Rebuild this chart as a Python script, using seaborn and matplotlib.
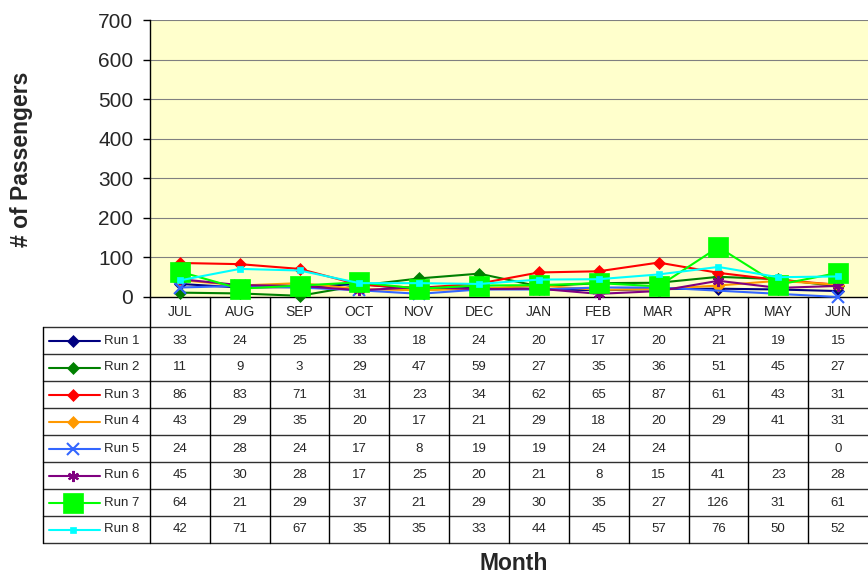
import numpy as np
import pandas as pd
import matplotlib
matplotlib.use("Agg")
import matplotlib.pyplot as plt
import seaborn as sns

months = ['JUL', 'AUG', 'SEP', 'OCT', 'NOV', 'DEC', 'JAN', 'FEB', 'MAR', 'APR', 'MAY', 'JUN']
run_names = ['Run 1', 'Run 2', 'Run 3', 'Run 4', 'Run 5', 'Run 6', 'Run 7', 'Run 8']
run1 = [33, 24, 25, 33, 18, 24, 20, 17, 20, 21, 19, 15]
run2 = [11, 9, 3, 29, 47, 59, 27, 35, 36, 51, 45, 27]
run3 = [86, 83, 71, 31, 23, 34, 62, 65, 87, 61, 43, 31]
run4 = [43, 29, 35, 20, 17, 21, 29, 18, 20, 29, 41, 31]
run5 = [24, 28, 24, 17, 8, 19, 19, 24, 24, np.nan, np.nan, 0]
run6 = [45, 30, 28, 17, 25, 20, 21, 8, 15, 41, 23, 28]
run7 = [64, 21, 29, 37, 21, 29, 30, 35, 27, 126, 31, 61]
run8 = [42, 71, 67, 35, 35, 33, 44, 45, 57, 76, 50, 52]
runs = [run1, run2, run3, run4, run5, run6, run7, run8]
y_ticks = [0, 100, 200, 300, 400, 500, 600, 700]

# styles per run
colors = ['#000080', '#008000', '#FF0000', '#FF9900', '#3366FF', '#800080', '#00FF00', '#00FFFF']
markers = ['D', 'D', 'D', 'D', 'x', (6, 2, 0), 's', 's']
msizes = [6, 6, 6, 6, 8, 8, 14, 4]

sns.set_style("white")
plt.rcParams['font.family'] = ['Liberation Sans', 'DejaVu Sans']

W, H = 868, 573
fig = plt.figure(figsize=(W / 100, H / 100), dpi=100)

# plot area in pixels: x 150..868, y 20..297
ax = fig.add_axes([150 / W, (H - 297) / H, (W - 150) / W, 277 / H])
ax.set_facecolor('#FFFFCC')

x = np.arange(len(months))
for name, vals, c, m, ms in zip(run_names, runs, colors, markers, msizes):
    df = pd.DataFrame({'month': x, 'value': vals})
    sns.lineplot(data=df, x='month', y='value', ax=ax, color=c, marker=m,
                 markersize=ms, markeredgecolor=c, markeredgewidth=1.5 if m in ('x', (6, 2, 0)) else 0.5,
                 linewidth=1.5, clip_on=False, zorder=3)

ax.set_xlim(-0.5, 11.5)
ax.set_ylim(0, 700)
ax.set_yticks(y_ticks)
ax.set_yticklabels([str(t) for t in y_ticks], fontsize=15)
ax.set_xticks([])
ax.set_xlabel('')
ax.set_ylabel('')
for t in y_ticks[1:]:
    ax.axhline(t, color='#808080', linewidth=0.8, zorder=1)
ax.tick_params(axis='y', direction='out', length=5, width=1, color='black', pad=7, left=True)
for s in ['top', 'right']:
    ax.spines[s].set_visible(False)
ax.spines['left'].set_color('black')
ax.spines['bottom'].set_color('black')
ax.spines['left'].set_linewidth(1)
ax.spines['bottom'].set_linewidth(1)

fig.text(22 / W, 1 - 159 / H, '# of Passengers', rotation=90, fontsize=16.5,
         fontweight='bold', ha='center', va='center')
fig.text(514 / W, 1 - 563 / H, 'Month', fontsize=16.5, fontweight='bold',
         ha='center', va='center')

# data table under the plot: x 43..868, y 297..543
colw = (W - 150) / 12.0
left = -0.5 - (150 - 43) / colw
tax = fig.add_axes([43 / W, (H - 543) / H, (W - 43) / W, 246 / H])
tax.set_xlim(left, 11.5)
tax.set_ylim(246, 0)
tax.axis('off')

def px(p):
    return left + (p - 43) / colw

head_h = 30
row_h = 27
# horizontal lines
for i in range(len(run_names) + 1):
    yy = head_h + row_h * i
    tax.plot([left, 11.5], [yy, yy], color='#303030', linewidth=1, clip_on=False)
# vertical lines
for k in range(12):
    tax.plot([k - 0.5, k - 0.5], [0, 246], color='black', linewidth=1, clip_on=False)
tax.plot([left, left], [head_h, 246], color='black', linewidth=1, clip_on=False)

for k, mth in enumerate(months):
    tax.text(k, head_h / 2, mth, ha='center', va='center', fontsize=10)

for i, (name, vals, c, m, ms) in enumerate(zip(run_names, runs, colors, markers, msizes)):
    yc = head_h + row_h * i + row_h / 2
    tax.plot([px(49), px(100)], [yc, yc], color=c, linewidth=1.5)
    tax.plot([px(73)], [yc], marker=m, color=c, markersize=ms,
             markeredgecolor=c, markeredgewidth=1.5 if m in ('x', (6, 2, 0)) else 0.5)
    tax.text(px(104), yc, name, ha='left', va='center', fontsize=9.5)
    for k, v in enumerate(vals):
        if not np.isnan(v):
            tax.text(k, yc, str(int(v)), ha='center', va='center', fontsize=9.5)

fig.savefig('out.png', dpi=100)
